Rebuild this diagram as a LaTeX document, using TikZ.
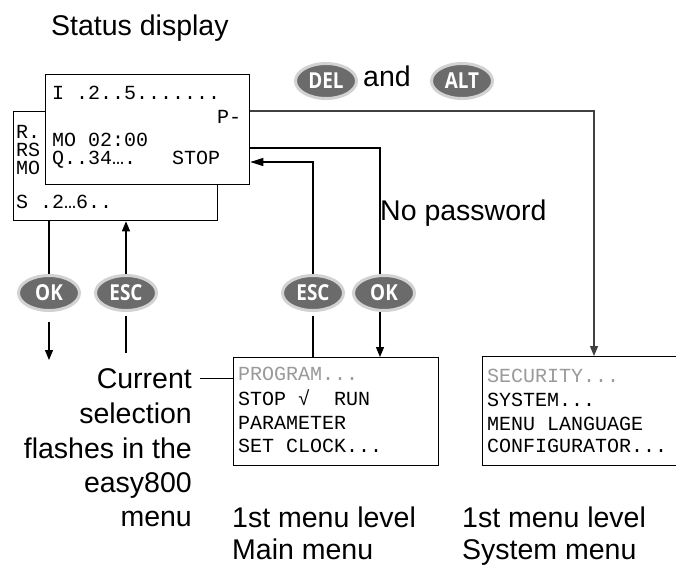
\documentclass[tikz,border=0pt]{standalone}
\usepackage{fontspec}
\setmainfont{Liberation Sans}
\newfontfamily\lcdfont{Liberation Mono}
\newfontfamily\btnfont[FakeStretch=0.86]{Open Sans}
\usetikzlibrary{arrows.meta,shapes.geometric}
\definecolor{btngray}{HTML}{6B6B6B}
\definecolor{btnrim}{HTML}{D2D2D2}
\definecolor{dimtext}{HTML}{9A9A9A}
\begin{document}
\begin{tikzpicture}[x=1pt,y=-1pt,
  lcd/.style={draw,line width=1.3pt,fill=white,inner sep=0pt,anchor=north west},
  lcdtext/.style={font=\lcdfont\fontsize{20}{24}\selectfont,inner sep=0pt,anchor=base west,
    text height=12pt,text depth=1pt},
  dim/.style={text=dimtext},
  lbl/.style={font=\fontsize{28.5}{34}\selectfont,inner sep=0pt},
  btn/.style={ellipse,fill=btngray,draw=btnrim,line width=3pt,minimum width=61pt,
    minimum height=35pt,inner sep=0pt,text=white,font=\btnfont\bfseries\fontsize{22}{22}\selectfont},
  wire/.style={line width=1.2pt},
  tip/.style={-{Triangle[length=10pt,width=8pt]}},
]
\useasboundingbox (0,0) rectangle (676,568);
\clip (0,0) rectangle (676,568);

% title
\node[lbl,anchor=base west] (title) at (51,35) {Status display};

% back display
\node[lcd,minimum width=204pt,minimum height=109pt] (back) at (13,111) {};
\node[lcdtext] (b1) at (16,138) {R.};
\node[lcdtext] (b2) at (16,156) {RS};
\node[lcdtext] (b3) at (16,174) {MO};
\node[lcdtext] (b4) at (16,208) {S .2…6..};

% front display
\node[lcd,minimum width=204pt,minimum height=110pt] (front) at (45,74) {};
\node[lcdtext] (f1) at (52,99) {I .2..5.......};
\node[lcdtext] (f2) at (217,123) {P-};
\node[lcdtext] (f3) at (52,146) {MO 02:00};
\node[lcdtext] (f4) at (52,164) {Q..34….\ \ \ STOP};

% DEL and ALT
\node[btn] (del) at (326,81) {DEL};
\node[lbl,anchor=base west] (and) at (363,86) {and};
\node[btn] (alt) at (462,81) {ALT};

% No password
\node[lbl,anchor=base west] (nopw) at (380,220) {No password};

% buttons row
\node[btn] (okl) at (49,293) {OK};
\node[btn] (escl) at (126,293) {ESC};
\node[btn] (escm) at (313,293) {ESC};
\node[btn] (okm) at (384,293) {OK};

% main menu
\node[lcd,minimum width=205pt,minimum height=108pt] (main) at (233,357) {};
\node[lcdtext,dim] (m1) at (238,380) {PROGRAM...};
\node[lcdtext] (m2) at (238,405) {STOP √\ \ RUN};
\node[lcdtext] (m3) at (238,429) {PARAMETER};
\node[lcdtext] (m4) at (238,452) {SET CLOCK...};

% system menu
\node[lcd,minimum width=204pt,minimum height=109pt] (sys) at (482,356) {};
\node[lcdtext,dim] (s1) at (487,382) {SECURITY...};
\node[lcdtext] (s2) at (487,406) {SYSTEM...};
\node[lcdtext] (s3) at (487,430) {MENU LANGUAGE};
\node[lcdtext] (s4) at (487,452) {CONFIGURATOR...};

% left text
\node[lbl,anchor=base east] (cur) at (192,388) {Current};
\node[lbl,anchor=base east] (cur2) at (192,423) {selection};
\node[lbl,anchor=base east] (cur3) at (192,458) {flashes in the};
\node[lbl,anchor=base east] (cur4) at (192,492) {easy800};
\node[lbl,anchor=base east] (cur5) at (192,526) {menu};

% bottom labels
\node[lbl,anchor=base west] (ml1) at (232,527) {1st menu level};
\node[lbl,anchor=base west] (ml2) at (232,559) {Main menu};
\node[lbl,anchor=base west] (sl1) at (462,527) {1st menu level};
\node[lbl,anchor=base west] (sl2) at (462,559) {System menu};

% coordinates
\coordinate (pw) at (594,111);
\coordinate (nb) at (380,148);
\coordinate (eb) at (313,162);
\coordinate (okend) at (49,360);
\coordinate (escend) at (126,353);

% connectors
\draw[wire,black!75,tip] (front.east |- pw) -- (pw) -- (pw |- sys.north);
\draw[line width=2pt] (front.east |- nb) -- (nb) -- (nb |- okm.north);
\draw[wire,tip] (nb |- okm.south) -- (nb |- main.north);
\draw[wire,-{Triangle[length=13pt,width=8pt]}] (escm.north) -- (escm.north |- eb) -- (front.east |- eb);
\draw[wire,shorten <=4pt] (escm.south) -- (escm.south |- main.north);
\draw[wire] (back.south -| okl) -- (okl.north);
\draw[wire,tip,shorten <=10pt] (okl.south) -- (okend);
\draw[wire,tip] (escl.north) -- (escl.north |- back.south);
\draw[wire,shorten <=4pt] (escl.south) -- (escend);
\draw[wire,shorten <=8pt] (cur.east) -- (cur.east -| main.west);
\end{tikzpicture}
\end{document}
